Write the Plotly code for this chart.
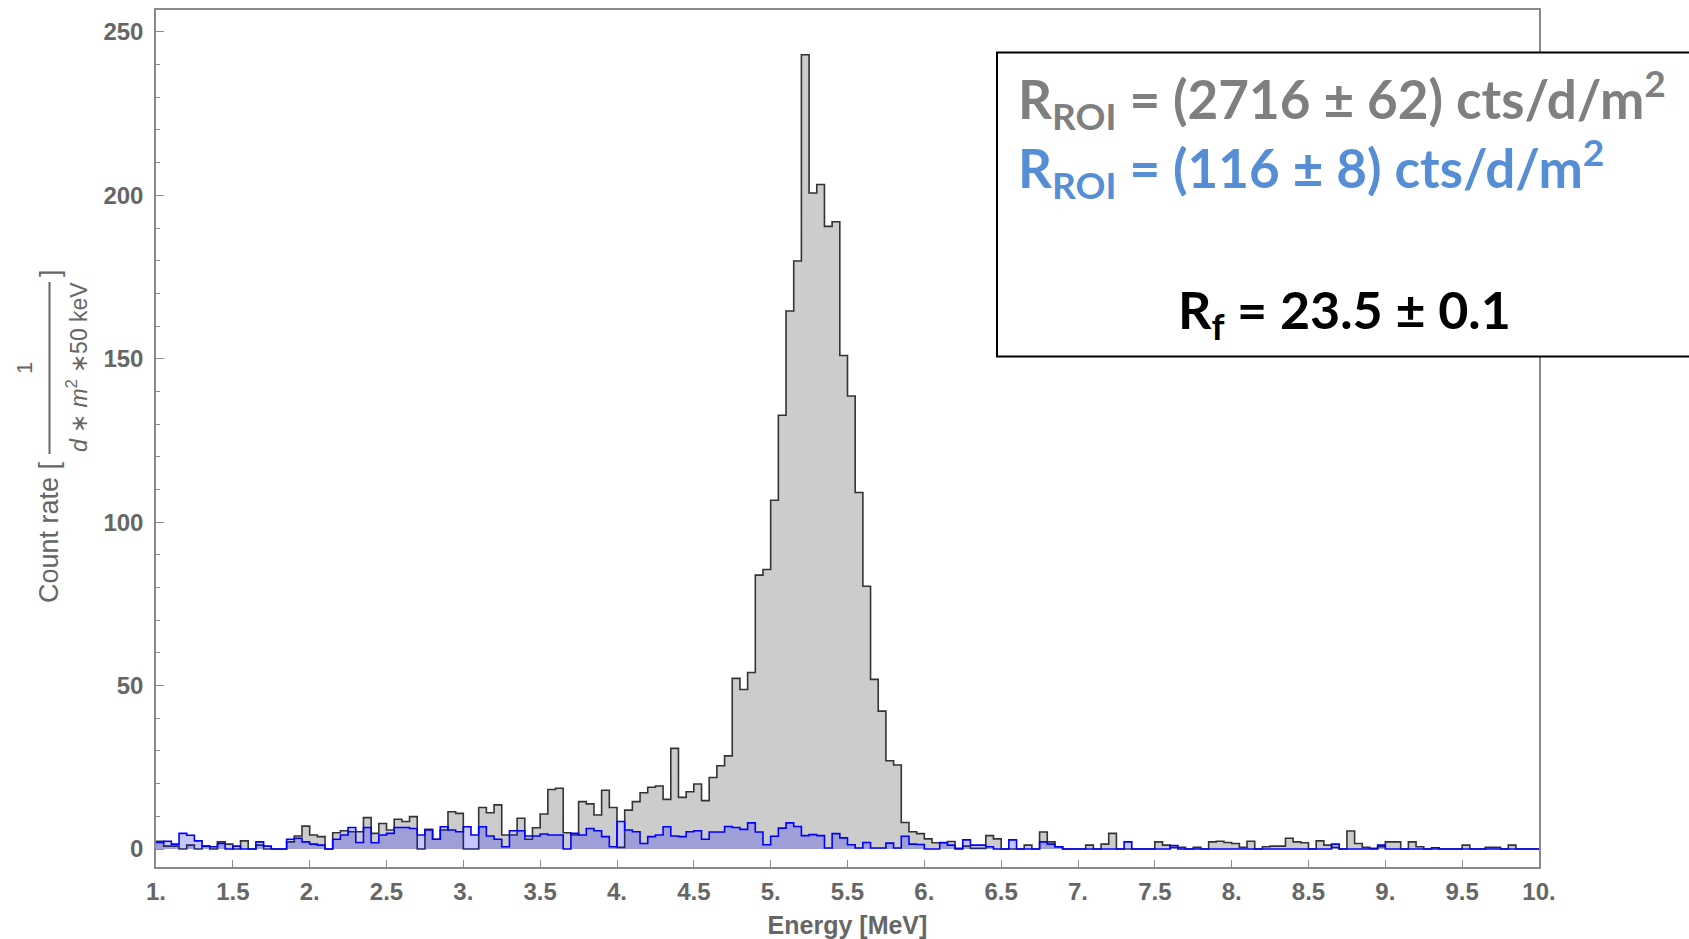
import plotly.graph_objects as go

# ---------------- data (count rate per 50 keV bin, 1.00 ... 10.00 MeV) ----------------
bin_width = 0.05
e_start = 1.0

gray_counts = [
    # 1.00 - 1.95
    2.4, 0.9, 0.9, 0.0, 1.2, 0.0, 0.9, 0.0, 2.2, 1.5, 0.0, 2.5, 0.0, 1.2, 0.0, 0.0, 0.0, 2.2, 4.0, 7.0,
    # 2.00 - 2.95
    4.3, 3.8, 0.0, 5.0, 5.6, 5.3, 5.3, 9.6, 4.8, 7.8, 5.8, 9.1, 8.4, 9.9, 0.0, 6.0, 3.0, 5.8, 11.4, 10.9,
    # 3.00 - 3.95
    0.0, 0.0, 12.7, 11.1, 13.5, 4.3, 4.3, 9.4, 3.0, 6.5, 10.7, 18.2, 18.6, 5.0, 4.3, 14.5, 13.8, 10.4, 18.0, 12.7,
    # 4.00 - 4.95
    0.5, 11.9, 14.5, 17.2, 18.9, 19.3, 15.2, 30.8, 15.8, 17.5, 19.9, 14.8, 21.9, 25.5, 28.5, 52.2, 48.8, 54.0, 83.8, 85.5,
    # 5.00 - 5.95
    106.7, 132.7, 164.6, 179.9, 243.0, 200.7, 203.3, 190.5, 191.9, 151.0, 138.6, 109.1, 80.4, 51.9, 42.2, 27.0, 25.7, 8.1, 5.3, 4.7,
    # 6.00 - 6.95
    3.1, 1.9, 2.0, 2.3, 0.2, 0.9, 0.2, 0.2, 4.1, 3.1, 0.0, 0.0, 0.0, 1.2, 0.0, 5.2, 2.2, 0.7, 0.0, 0.0,
    # 7.00 - 7.95
    0.0, 1.2, 0.0, 1.5, 4.8, 0.0, 0.0, 0.0, 0.0, 0.0, 2.2, 1.2, 0.5, 0.5, 0.0, 0.5, 0.0, 2.2, 2.4, 2.0,
    # 8.00 - 8.95
    1.7, 0.5, 2.4, 0.0, 0.7, 0.9, 0.9, 3.3, 2.2, 1.9, 0.0, 2.5, 1.2, 0.5, 0.0, 5.5, 1.7, 0.5, 0.2, 0.7,
    # 9.00 - 9.95
    2.2, 2.2, 0.0, 2.2, 0.7, 0.0, 0.0, 0.0, 0.0, 0.0, 1.2, 0.0, 0.0, 0.5, 0.5, 0.0, 1.2, 0.0, 0.0, 0.0,
]

blue_counts = [
    # 1.00 - 1.95
    2.0, 2.4, 1.5, 4.8, 4.2, 2.5, 0.9, 0.7, 1.7, 0.0, 0.9, 0.0, 0.0, 2.2, 0.9, 0.0, 0.0, 3.0, 3.3, 2.2,
    # 2.00 - 2.95
    1.5, 1.2, 0.0, 3.0, 4.3, 6.6, 2.0, 6.6, 1.9, 4.3, 4.8, 6.6, 6.6, 6.3, 4.3, 5.8, 3.0, 6.8, 5.8, 5.3,
    # 3.00 - 3.95
    6.8, 4.3, 6.8, 4.0, 3.0, 0.7, 5.6, 5.6, 4.0, 4.0, 4.6, 4.3, 4.3, 0.0, 4.8, 4.3, 6.3, 5.6, 3.8, 0.7,
    # 4.00 - 4.95
    8.4, 5.8, 5.3, 1.7, 3.8, 4.3, 6.8, 4.0, 3.8, 5.3, 5.6, 3.0, 5.2, 5.2, 6.9, 6.6, 6.0, 8.0, 5.2, 1.3,
    # 5.00 - 5.95
    3.9, 6.4, 8.0, 6.9, 4.1, 4.4, 4.1, 0.3, 4.7, 3.4, 1.3, 0.3, 2.0, 0.3, 0.3, 1.8, 0.3, 3.9, 1.5, 1.4,
    # 6.00 - 6.95
    0.0, 0.0, 1.9, 1.2, 0.0, 2.8, 1.2, 1.2, 0.7, 0.0, 0.0, 2.8, 0.0, 0.0, 0.0, 2.2, 1.5, 0.7, 0.0, 0.0,
    # 7.00 - 7.95
    0.0, 0.0, 0.0, 0.0, 0.0, 0.0, 2.2, 0.0, 0.0, 0.0, 0.0, 0.0, 1.1, 0.0, 0.0, 0.0, 0.0, 0.0, 0.0, 0.0,
    # 8.00 - 8.95
    0.0, 0.0, 0.0, 0.0, 0.0, 0.0, 0.0, 0.0, 0.0, 0.0, 0.0, 0.0, 0.0, 1.5, 0.0, 0.0, 0.0, 0.0, 0.0, 1.2,
    # 9.00 - 9.95
    0.0, 0.0, 0.0, 0.0, 0.0, 0.0, 0.4, 0.0, 0.0, 0.0, 0.0, 0.0, 0.0, 0.0, 0.0, 0.0, 0.0, 0.0, 0.0, 0.0,
]

x_tick_vals = [1.0, 1.5, 2.0, 2.5, 3.0, 3.5, 4.0, 4.5, 5.0, 5.5, 6.0, 6.5, 7.0, 7.5, 8.0, 8.5, 9.0, 9.5, 10.0]
x_tick_text = ["1.", "1.5", "2.", "2.5", "3.", "3.5", "4.", "4.5", "5.", "5.5", "6.", "6.5",
               "7.", "7.5", "8.", "8.5", "9.", "9.5", "10."]
y_tick_vals = [0, 50, 100, 150, 200, 250]

legend_lines = [
    "<b>R<sub>ROI</sub> = (2716 ± 62) cts/d/m<sup>2</sup></b>",
    "<b>R<sub>ROI</sub> = (116 ± 8) cts/d/m<sup>2</sup></b>",
    "<b>R<sub>f</sub> = 23.5 ± 0.1</b>",
]

assert len(gray_counts) == 180 and len(blue_counts) == 180

edges = [round(e_start + i * bin_width, 2) for i in range(len(gray_counts) + 1)]

# ---------------- figure ----------------
W, H = 1689, 939
ML, MR, MT, MB = 156, 150, 10, 72
PW, PH = W - ML - MR, H - MT - MB


def px(x):
    return (x - ML) / PW


def py(y):
    return (H - MB - y) / PH


fig = go.Figure()

fig.add_trace(go.Scatter(
    x=edges, y=gray_counts + [gray_counts[-1]],
    mode="lines", line=dict(shape="hv", color="#333333", width=1.6),
    fill="tozeroy", fillcolor="#cccccc", hoverinfo="skip", showlegend=False,
))
fig.add_trace(go.Scatter(
    x=edges, y=blue_counts + [blue_counts[-1]],
    mode="lines", line=dict(shape="hv", color="#0000ff", width=1.6),
    fill="tozeroy", fillcolor="rgba(0,0,255,0.22)", hoverinfo="skip", showlegend=False,
))

axis_col = "#8a8a8a"
tick_font = dict(family="Liberation Sans, Arial", size=24, color="#666666", weight="bold")

fig.update_layout(
    width=W, height=H,
    margin=dict(l=ML, r=MR, t=MT, b=MB, autoexpand=False),
    paper_bgcolor="white", plot_bgcolor="white",
    xaxis=dict(
        range=[1, 10], showgrid=False, zeroline=False,
        showline=True, mirror=True, linecolor=axis_col, linewidth=1.5,
        ticks="inside", ticklen=7, tickcolor=axis_col, tickwidth=1.3,
        tickmode="array", tickvals=x_tick_vals, ticktext=x_tick_text,
        tickfont=tick_font, ticklabelstandoff=2,
        title=dict(text="Energy [MeV]", font=dict(family="Liberation Sans, Arial", size=25,
                                                  color="#666666", weight="bold"), standoff=18),
    ),
    yaxis=dict(
        range=[-5.5, 256.7], showgrid=False, zeroline=False,
        showline=True, mirror=True, linecolor=axis_col, linewidth=1.5,
        ticks="inside", ticklen=8, tickcolor=axis_col, tickwidth=1.3,
        tickmode="array", tickvals=y_tick_vals,
        tickfont=tick_font, ticklabelstandoff=6,
        minor=dict(tickmode="linear", tick0=0, dtick=10, ticks="inside", ticklen=4,
                   tickcolor=axis_col, tickwidth=1.2),
    ),
)

lab_font = dict(family="Liberation Sans, Arial", size=27, color="#666666")
annots = [
    dict(text="Count rate [", x=px(49), y=py(532), textangle=-90, font=lab_font),
    dict(text="]", x=px(50), y=py(273), textangle=-90, font=lab_font),
    dict(text="1", x=px(24), y=py(368), textangle=-90, font=dict(lab_font, size=22)),
    dict(text="<i>d</i> ∗ <i>m</i><sup>2</sup> ∗50 keV", x=px(77), y=py(367), textangle=-90,
         font=dict(lab_font, size=23)),
]
for a in annots:
    fig.add_annotation(xref="paper", yref="paper", xanchor="center", yanchor="middle",
                       showarrow=False, **a)

fig.add_shape(type="line", xref="paper", yref="paper", x0=px(49.5), x1=px(49.5),
              y0=py(282), y1=py(454), line=dict(color="#666666", width=2))

# legend box
fig.add_shape(type="rect", xref="paper", yref="paper", x0=px(997), x1=px(1710),
              y0=py(356.5), y1=py(52.5), line=dict(color="black", width=2),
              fillcolor="white", layer="above")

leg_font = "Lato, Open Sans, sans-serif"
fig.add_annotation(xref="paper", yref="paper", x=px(1016), y=py(99), xanchor="left", yanchor="middle",
                   text=legend_lines[0], showarrow=False,
                   font=dict(family=leg_font, size=53, color="#7f7f7f", weight="bold"))
fig.add_annotation(xref="paper", yref="paper", x=px(1016), y=py(168), xanchor="left", yanchor="middle",
                   text=legend_lines[1], showarrow=False,
                   font=dict(family=leg_font, size=53, color="#558ed5", weight="bold"))
fig.add_annotation(xref="paper", yref="paper", x=px(1344), y=py(313), xanchor="center", yanchor="middle",
                   text=legend_lines[2], showarrow=False,
                   font=dict(family=leg_font, size=52, color="black", weight="bold"))

fig.write_html("out.html")
